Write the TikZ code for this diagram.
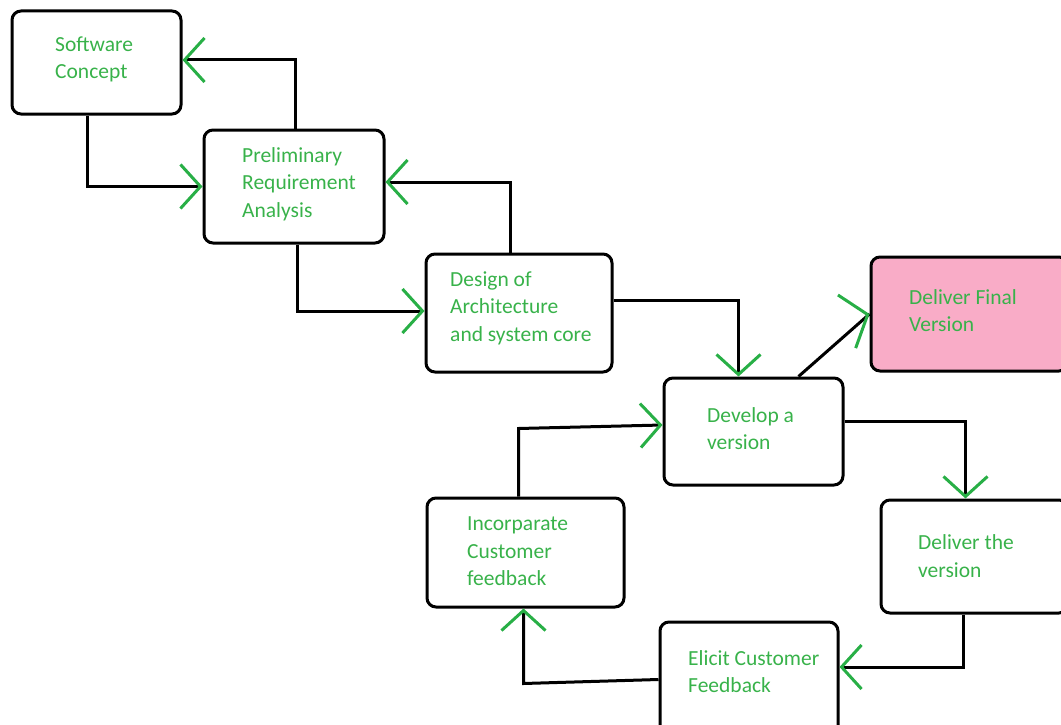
\documentclass[tikz,border=0pt]{standalone}
\usepackage{fontspec}
\setmainfont{Carlito}
\usetikzlibrary{arrows.meta,calc}
\definecolor{txtgreen}{RGB}{56,178,74}
\definecolor{arrgreen}{RGB}{40,175,70}
\definecolor{pinkfill}{RGB}{249,172,199}
\begin{document}
\begin{tikzpicture}[x=1pt,y=-1pt,
  box/.style={draw=black,line width=3pt,rounded corners=9pt,inner sep=0pt},
  lbl/.style={anchor=west,align=left,text=txtgreen,inner sep=0pt,
    font=\fontsize{21.5}{27.5}\selectfont},
  line/.style={draw=black,line width=3pt},
  conn/.style={line,
    -{Straight Barb[length=20pt,width=44pt,line width=3pt,color=arrgreen]}},
  tiponly/.style={draw=arrgreen,line width=3pt,
    -{Straight Barb[length=22pt,width=56pt,line width=3pt,color=arrgreen]}}]
\useasboundingbox (0,0) rectangle (1061,725);
% boxes
\node[box,minimum width=169pt,minimum height=103pt] (sc) at (96.5,62.5) {};
\node[box,minimum width=180pt,minimum height=113pt] (prelim) at (294,186.5) {};
\node[box,minimum width=186pt,minimum height=118pt] (design) at (519,313) {};
\node[box,minimum width=179pt,minimum height=107pt] (develop) at (753.5,431.5) {};
\node[box,fill=pinkfill,minimum width=197pt,minimum height=114pt] (final) at (969.5,314) {};
\node[box,minimum width=187pt,minimum height=113pt] (deliver) at (974.5,556.5) {};
\node[box,minimum width=178pt,minimum height=113pt] (elicit) at (749,678.5) {};
\node[box,minimum width=197pt,minimum height=109pt] (incorp) at (525.5,552.5) {};
% labels
\node[lbl] (tsc) at (55,59.5) {Software\\Concept};
\node[lbl] (tprelim) at (242,184) {Preliminary\\Requirement\\Analysis};
\node[lbl] (tdesign) at (450,308) {Design of\\Architecture\\and system core};
\node[lbl] (tdevelop) at (707,428.5) {Develop a\\version};
\node[lbl] (tfinal) at (909,310.5) {Deliver Final\\Version};
\node[lbl] (tdeliver) at (918,556) {Deliver the\\version};
\node[lbl] (telicit) at (688,671.5) {Elicit Customer\\Feedback};
\node[lbl] (tincorp) at (467,551.5) {Incorparate\\Customer\\feedback};
% connectors
\draw[conn] ([xshift=77pt]sc.south west) |- (prelim.west);
\draw[conn] ([xshift=93pt]prelim.north west) |- ([yshift=2.5pt]sc.east);
\draw[conn] ([xshift=95pt]prelim.south west) |- ([yshift=2pt]design.west);
\draw[conn] ([xshift=86pt]design.north west) |- ([yshift=4.5pt]prelim.east);
\draw[conn] ([yshift=13pt]design.east) -| ([xshift=76pt]develop.north west);
\draw[line] ([xshift=136pt]develop.north west) -- (final.west);
\draw[tiponly] ([xshift=-3pt,yshift=-1pt]final.west) -- (final.west);
\draw[conn] ([yshift=10.5pt]develop.east) -| ([xshift=86pt]deliver.north west);
\draw[conn] ([xshift=84pt]deliver.south west) |- ([yshift=11.5pt]elicit.east);
\draw[conn] ([yshift=-1pt]elicit.west) -- ([xshift=98pt,yshift=-75pt]incorp.south west) -- ([xshift=98pt]incorp.south west);
\draw[conn] ([xshift=93pt]incorp.north west) -- ([xshift=93pt,yshift=68pt]incorp.north west) -- ([yshift=6.5pt]develop.west);
\end{tikzpicture}
\end{document}
